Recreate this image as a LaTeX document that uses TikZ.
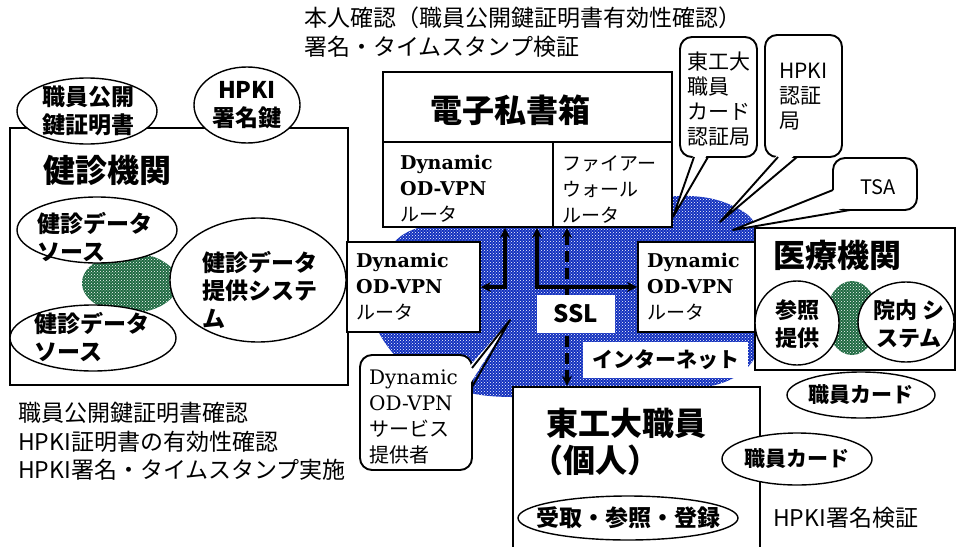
\documentclass[tikz,border=0pt]{standalone}
\usepackage{fontspec}
\setmainfont{Noto Sans CJK JP}
\newfontfamily\dvs{DejaVu Serif}
\usetikzlibrary{patterns,arrows.meta,shapes.geometric}
\definecolor{netblue}{RGB}{18,48,190}
\definecolor{langreen}{RGB}{30,105,65}
\newcommand\fsz[2]{\fontsize{#1}{#2}\selectfont}
\begin{document}
\begin{tikzpicture}[x=1pt,y=-1pt,
  box/.style={draw, line width=1.9pt, fill=white, inner sep=0pt},
  ell/.style={ellipse, draw, line width=1.4pt, fill=white, inner sep=0pt},
  call/.style={draw, line width=1.9pt, fill=white, rounded corners=12pt, inner sep=0pt},
  txt/.style={inner sep=0pt, anchor=west, align=left},
  ctxt/.style={inner sep=0pt, align=center},
  arr/.style={line width=3.2pt, {Stealth[length=10pt,width=10pt]}-{Stealth[length=10pt,width=10pt]}},
  lbl/.style={fill=white, inner sep=0pt},
  tail/.style={line width=1.9pt, line join=round},
  dotted fill/.style={fill=#1, postaction={pattern=crosshatch dots, pattern color=white}}
]
\useasboundingbox (0,0) rectangle (957,546);
\clip (0,0) rectangle (957,546);

% ---------- internet cloud ----------
\path[dotted fill=netblue]
  plot[smooth cycle, tension=0.6] coordinates {(372,312) (392,245) (440,222) (520,212) (620,202) (690,196) (735,207) (758,232) (763,300) (758,352) (722,383) (640,393) (540,397) (470,393) (408,368)};

% ---------- top annotation ----------
\node[txt, font=\fsz{23}{28}] (top1) at (304,18) {本人確認（職員公開鍵証明書有効性確認）};
\node[txt, font=\fsz{23}{28}] (top2) at (304,47) {署名・タイムスタンプ検証};

% ---------- 健診機関 ----------
\node[box, minimum width=338pt, minimum height=257pt] (kenshin) at (179,256.5) {};
\node[txt, font=\fsz{32}{38}\bfseries] (kenshinT) at (43,170) {健診機関};
\path[dotted fill=langreen] (130,283) ellipse [x radius=48, y radius=30];

\node[ell, minimum width=140pt, minimum height=66pt] (epub) at (87,111) {};
\node[ctxt, font=\fsz{23}{28}\bfseries] (epubT) at (88,111) {職員公開\\鍵証明書};
\node[ell, minimum width=106pt, minimum height=76pt] (ehpki) at (247,105) {};
\node[ctxt, font=\fsz{23}{28}\bfseries] (ehpkiT) at (247,105) {HPKI\\署名鍵};

\node[ell, minimum width=160pt, minimum height=66pt] (esrc1) at (97,230) {};
\node[txt, font=\fsz{23}{28}\bfseries] (esrc1T) at (37,237) {健診データ\\ソース};
\node[ell, minimum width=166pt, minimum height=66pt] (esrc2) at (93,338) {};
\node[txt, font=\fsz{23}{28}\bfseries] (esrc2T) at (34,337) {健診データ\\ソース};
\node[ell, minimum width=176pt, minimum height=124pt] (esys) at (258,280) {};
\node[txt, font=\fsz{23}{28}\bfseries] (esysT) at (202,290) {健診データ\\提供システ\\ム};

% ---------- bottom-left annotation ----------
\node[txt, font=\fsz{23}{28}] (bl1) at (18,413) {職員公開鍵証明書確認};
\node[txt, font=\fsz{23}{28}] (bl2) at (18,442) {HPKI証明書の有効性確認};
\node[txt, font=\fsz{23}{28}] (bl3) at (18,470) {HPKI署名・タイムスタンプ実施};

% ---------- 電子私書箱 ----------
\node[box, minimum width=289pt, minimum height=155pt] (denshi) at (527.5,149.5) {};
\draw[line width=1.9pt] (denshi.west |- 0,142) -- (denshi.east |- 0,142);
\draw[line width=1.9pt] (553,142) -- (denshi.south -| 553,0);
\node[ctxt, font=\fsz{32}{38}\bfseries] (denshiT) at (510,110) {電子私書箱};
\node[txt, font=\fsz{19}{26}] (dvpn1) at (400,189) {{\dvs\bfseries Dynamic}\\{\dvs\bfseries OD-VPN}\\ルータ};
\node[txt, font=\fsz{19}{26}] (fw) at (562,189) {ファイアー\\ウォール\\ルータ};

% ---------- routers ----------
\node[box, minimum width=133pt, minimum height=90pt] (lrouter) at (413.5,287) {};
\node[txt, font=\fsz{19}{26}] (lrouterT) at (356,287) {{\dvs\bfseries Dynamic}\\{\dvs\bfseries OD-VPN}\\ルータ};
\node[box, minimum width=117pt, minimum height=90pt] (rrouter) at (696.5,287) {};
\node[txt, font=\fsz{19}{26}] (rrouterT) at (647,287) {{\dvs\bfseries Dynamic}\\{\dvs\bfseries OD-VPN}\\ルータ};

% ---------- 医療機関 ----------
\node[box, minimum width=200pt, minimum height=142pt] (iryo) at (855,299) {};
\node[txt, font=\fsz{32}{38}\bfseries] (iryoT) at (773,255) {医療機関};
\path[dotted fill=langreen] (852,318) ellipse [x radius=26, y radius=37];
\node[ell, minimum width=84pt, minimum height=84pt] (eref) at (797,323) {};
\node[ctxt, font=\fsz{22}{28}\bfseries] (erefT) at (797,324) {参照\\提供};
\node[ell, minimum width=96pt, minimum height=80pt] (ein) at (906,322) {};
\node[ctxt, font=\fsz{22}{28}\bfseries] (einT) at (909,324) {院内 シ\\ステム};
\node[ell, minimum width=148pt, minimum height=46pt] (ecard1) at (861,395) {};
\node[ctxt, font=\fsz{21}{26}\bfseries] (ecard1T) at (861,395) {職員カード};

% ---------- 東工大職員 ----------
\node[box, line width=2.3pt, minimum width=247pt, minimum height=173pt] (tokodai) at (636.5,473.5) {};
\node[txt, font=\fsz{32}{38}\bfseries] (tokodaiT1) at (546,423) {東工大職員};
\node[txt, font=\fsz{32}{38}\bfseries] (tokodaiT2) at (531,460) {（個人）};
\node[ell, minimum width=220pt, minimum height=44pt] (erecv) at (628,518) {};
\node[ctxt, font=\fsz{23}{28}\bfseries] (erecvT) at (628,518) {受取・参照・登録};
\node[ell, minimum width=150pt, minimum height=52pt] (ecard2) at (797,459) {};
\node[ctxt, font=\fsz{21}{26}\bfseries] (ecard2T) at (797,459) {職員カード};
\node[txt, font=\fsz{23}{28}] (hpkiv) at (773,518) {HPKI署名検証};

% ---------- connectors ----------
\coordinate (j1) at (505,287);
\coordinate (j2) at (537,287);
\draw[arr] (lrouter.east |- j1) -- (j1) -- (j1 |- denshi.south);
\draw[arr] (j2 |- denshi.south) -- (j2) -- (j2 -| rrouter.west);
\draw[arr, dash pattern=on 11pt off 6pt] (denshi.south -| 567,0) -- (tokodai.north -| 567,0);
\node[lbl, minimum width=78pt, minimum height=38pt, font=\fsz{24}{28}\bfseries] (ssl) at (576,314) {SSL};
\node[lbl, minimum width=165pt, minimum height=36pt, font=\fsz{21}{24}\bfseries] (inet) at (665.5,360) {インターネット};

% ---------- callouts ----------
% 東工大職員カード認証局
\node[call, minimum width=77pt, minimum height=120pt] (ca1) at (718.5,97) {};
\node[ctxt, font=\fsz{21}{25}] (ca1T) at (718.5,99) {東工大\\職員　\\カード\\認証局};
\coordinate (ca1a) at (694,157); \coordinate (ca1b) at (708,157); \coordinate (ca1tip) at (673,217);
\fill[white] (694,153) -- (ca1tip) -- (708,153) -- cycle;
\draw[tail] (ca1a) -- (ca1tip) -- (ca1b);
% HPKI認証局
\node[call, minimum width=77pt, minimum height=122pt] (ca2) at (803.5,96) {};
\node[txt, font=\fsz{21}{25}] (ca2T) at (779,97) {HPKI\\認証\\局};
\coordinate (ca2a) at (778,157); \coordinate (ca2b) at (797,157); \coordinate (ca2tip) at (720,222);
\fill[white] (779,153) -- (ca2tip) -- (797,153) -- cycle;
\draw[tail] (ca2a) -- (ca2tip) -- (ca2b);
% TSA
\node[call, minimum width=84pt, minimum height=52pt] (ca3) at (875,184) {};
\node[ctxt, font=\fsz{20}{24}] (ca3T) at (878,187) {TSA};
\coordinate (ca3a) at (833,190); \coordinate (ca3b) at (850,210); \coordinate (ca3tip) at (733,230);
\fill[white] (836,189) -- (ca3tip) -- (851,207) -- (845,199) -- cycle;
\draw[tail] (ca3a) -- (ca3tip) -- (ca3b);
% Dynamic OD-VPN サービス提供者
\node[call, minimum width=112pt, minimum height=115pt] (ca4) at (416,412.5) {};
\node[txt, font=\fsz{20}{26}] (ca4T) at (369,417) {{\dvs Dynamic}\\{\dvs OD-VPN}\\サービス\\提供者};
\coordinate (ca4a) at (472,368); \coordinate (ca4b) at (472,387); \coordinate (ca4tip) at (510,320);
\fill[white] (468,368) -- (ca4tip) -- (468,387) -- cycle;
\draw[tail] (ca4a) -- (ca4tip) -- (ca4b);
\end{tikzpicture}
\end{document}
